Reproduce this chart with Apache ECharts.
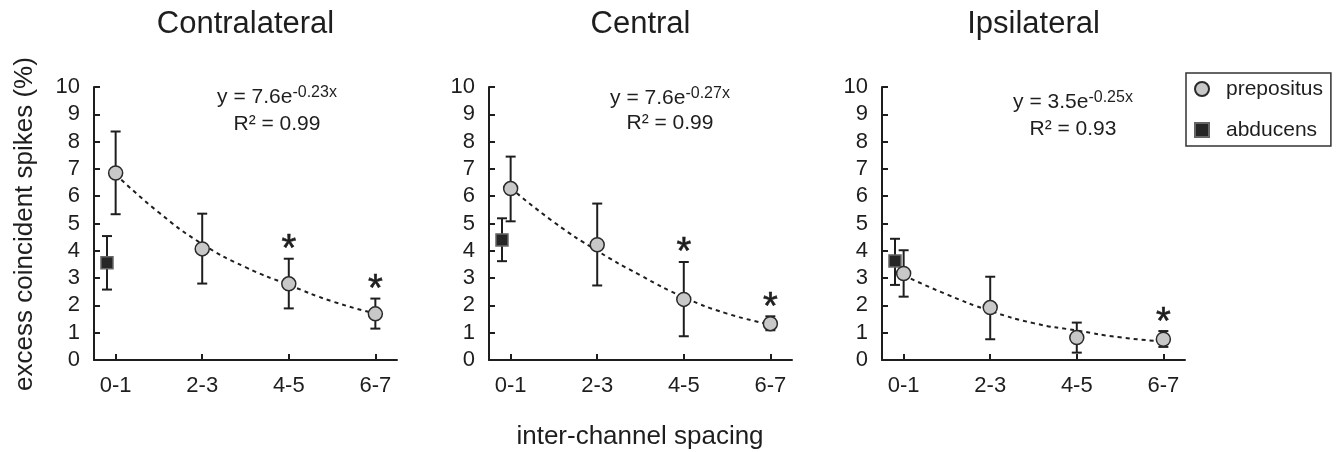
<!DOCTYPE html>
<html><head><meta charset="utf-8">
<script src="https://cdn.jsdelivr.net/npm/echarts@6/dist/echarts.min.js"></script>
<style>html,body{margin:0;padding:0;background:#fff}#c{width:1339px;height:452px}</style>
</head><body><div id="c"></div>
<script>
// ---- data ----
const categories = ['0-1', '2-3', '4-5', '6-7'];
const categoryX = [0.5, 2.5, 4.5, 6.5];
const abducensX = 0.3;
const fitX = [0.5, 1.5, 2.5, 3.5, 4.5, 5.5, 6.5];
const panelTitles = ['Contralateral', 'Central', 'Ipsilateral'];

const contraPrepMean = [6.85, 4.07, 2.79, 1.69];
const contraPrepLow  = [5.34, 2.80, 1.89, 1.15];
const contraPrepHigh = [8.37, 5.36, 3.71, 2.25];
const contraSig      = [0, 0, 1, 1];
const contraAbd      = [3.56, 2.58, 4.54]; // mean, low, high
const contraFit      = [6.8, 5.4, 4.25, 3.4, 2.75, 2.15, 1.7];

const centralPrepMean = [6.28, 4.22, 2.22, 1.33];
const centralPrepLow  = [5.08, 2.73, 0.87, 1.09];
const centralPrepHigh = [7.45, 5.73, 3.59, 1.60];
const centralSig      = [0, 0, 1, 1];
const centralAbd      = [4.40, 3.62, 5.19];
const centralFit      = [6.3, 5.05, 4.0, 3.1, 2.3, 1.7, 1.3];

const ipsiPrepMean = [3.17, 1.92, 0.82, 0.76];
const ipsiPrepLow  = [2.32, 0.76, 0.27, 0.48];
const ipsiPrepHigh = [4.02, 3.05, 1.37, 1.06];
const ipsiSig      = [0, 0, 0, 1];
const ipsiAbd      = [3.63, 2.75, 4.44];
const ipsiFit      = [3.1, 2.4, 1.8, 1.35, 1.08, 0.83, 0.68];

const eqCoef = ['7.6', '7.6', '3.5'];
const eqExp  = ['-0.23x', '-0.27x', '-0.25x'];
const eqR2   = ['0.99', '0.99', '0.93'];

const yTicks = [0, 1, 2, 3, 4, 5, 6, 7, 8, 9, 10];

// ---- layout ----
const FONT = 'Liberation Sans, Arial, sans-serif';
const INK = '#1e1e1e';
const gridLefts = [94, 489, 882];
const gridWidth = 303;
const eqPos = [[277, 97, 124], [670, 98, 123], [1073, 102, 129]];

const panels = [
  {mean: contraPrepMean, low: contraPrepLow, high: contraPrepHigh, sig: contraSig, abd: contraAbd, fit: contraFit},
  {mean: centralPrepMean, low: centralPrepLow, high: centralPrepHigh, sig: centralSig, abd: centralAbd, fit: centralFit},
  {mean: ipsiPrepMean, low: ipsiPrepLow, high: ipsiPrepHigh, sig: ipsiSig, abd: ipsiAbd, fit: ipsiFit}
];

function errorRender(params, api) {
  const x = api.value(0), lo = api.value(1), hi = api.value(2), sig = api.value(3);
  const pt = api.coord([x, hi]), pb = api.coord([x, lo]);
  const cap = 5;
  const st = {stroke: INK, lineWidth: 2};
  const ch = [
    {type: 'line', shape: {x1: pt[0], y1: pt[1], x2: pb[0], y2: pb[1]}, style: st},
    {type: 'line', shape: {x1: pt[0] - cap, y1: pt[1], x2: pt[0] + cap, y2: pt[1]}, style: st},
    {type: 'line', shape: {x1: pb[0] - cap, y1: pb[1], x2: pb[0] + cap, y2: pb[1]}, style: st}
  ];
  if (sig) {
    ch.push({type: 'text', style: {text: '*', x: pt[0], y: pt[1] + 11, align: 'center', verticalAlign: 'bottom',
      font: '38px ' + FONT, fill: INK, stroke: INK, lineWidth: 0.6}});
  }
  return {type: 'group', children: ch};
}

const grid = [], xAxis = [], yAxis = [], series = [], graphic = [];
panels.forEach((p, i) => {
  grid.push({left: gridLefts[i], width: gridWidth, top: 87, bottom: 92});
  xAxis.push({
    type: 'value', gridIndex: i, min: 0, max: 7,
    axisLine: {show: true, onZero: false, lineStyle: {color: INK, width: 2}},
    axisTick: {show: true, inside: true, length: 6, customValues: categoryX, lineStyle: {color: INK, width: 2}},
    axisLabel: {customValues: categoryX, formatter: v => categories[categoryX.indexOf(v)],
      fontSize: 22, fontFamily: FONT, color: INK, margin: 15},
    splitLine: {show: false}
  });
  yAxis.push({
    type: 'value', gridIndex: i, min: 0, max: 10, interval: 1,
    axisLine: {show: true, lineStyle: {color: INK, width: 2}},
    axisTick: {show: true, inside: true, length: 6, lineStyle: {color: INK, width: 2}},
    axisLabel: {fontSize: 22, fontFamily: FONT, color: INK, margin: 14,
      customValues: yTicks},
    splitLine: {show: false}
  });
  graphic.push({type: 'text', x: gridLefts[i] + gridWidth / 2, y: 24,
    style: {text: panelTitles[i], align: 'center', verticalAlign: 'middle', font: '31px ' + FONT, fill: INK}});
  series.push({
    type: 'line', name: 'fit' + i, xAxisIndex: i, yAxisIndex: i, smooth: true, showSymbol: false, silent: true,
    data: fitX.map((x, k) => [x, p.fit[k]]),
    lineStyle: {color: INK, width: 2, type: [4, 4]}, z: 1
  });
  const errData = categoryX.map((x, k) => [x, p.low[k], p.high[k], p.sig[k]]);
  errData.push([abducensX, p.abd[1], p.abd[2], 0]);
  series.push({
    type: 'custom', name: 'err' + i, xAxisIndex: i, yAxisIndex: i, renderItem: errorRender, clip: false,
    data: errData, z: 2, encode: {x: 0, y: [1, 2]}
  });
  series.push({
    type: 'scatter', name: 'abducens', xAxisIndex: i, yAxisIndex: i, symbol: 'rect', symbolSize: 12,
    data: [[abducensX, p.abd[0]]],
    itemStyle: {color: '#262626', borderColor: '#666', borderWidth: 1.5, opacity: 1}, z: 3
  });
  series.push({
    type: 'scatter', name: 'prepositus', xAxisIndex: i, yAxisIndex: i, symbol: 'circle', symbolSize: 14,
    data: categoryX.map((x, k) => [x, p.mean[k]]),
    itemStyle: {color: '#c8c8c8', borderColor: '#2a2a2a', borderWidth: 1.5, opacity: 1}, z: 4
  });
  graphic.push({
    type: 'text', x: eqPos[i][0], y: eqPos[i][1],
    style: {
      text: '{m|y = ' + eqCoef[i] + 'e}{s|' + eqExp[i] + '}', align: 'center', verticalAlign: 'middle',
      rich: {m: {fontSize: 21, fontFamily: FONT, fill: INK, lineHeight: 24},
             s: {fontSize: 16, fontFamily: FONT, fill: INK, lineHeight: 24, verticalAlign: 'top', padding: [0, 0, 8, 0]}}
    }
  });
  graphic.push({
    type: 'text', x: eqPos[i][0], y: eqPos[i][2],
    style: {text: 'R\u00b2 = ' + eqR2[i], align: 'center', verticalAlign: 'middle', font: '21px ' + FONT, fill: INK}
  });
});

graphic.push({type: 'text', x: 25, y: 224, rotation: Math.PI / 2,
  style: {text: 'excess coincident spikes (%)', align: 'center', verticalAlign: 'middle', font: '26px ' + FONT, fill: INK}});
graphic.push({type: 'text', x: 640, y: 437,
  style: {text: 'inter-channel spacing', align: 'center', verticalAlign: 'middle', font: '26px ' + FONT, fill: INK}});

const chart = echarts.init(document.getElementById('c'), null, {renderer: 'canvas'});
chart.setOption({
  animation: false,
  backgroundColor: '#fff',
  grid, xAxis, yAxis, series, graphic,
  legend: {
    data: [
      {name: 'prepositus', icon: 'circle'},
      {name: 'abducens', icon: 'rect'}
    ],
    orient: 'vertical', left: 1186, top: 73, padding: [5, 8, 5, 8],
    itemWidth: 14, itemHeight: 14, itemGap: 19,
    borderColor: '#333', borderWidth: 1.5,
    textStyle: {fontSize: 21, fontFamily: FONT, color: INK, lineHeight: 22, padding: [0, 0, 0, 12]}
  }
});
</script></body></html>
